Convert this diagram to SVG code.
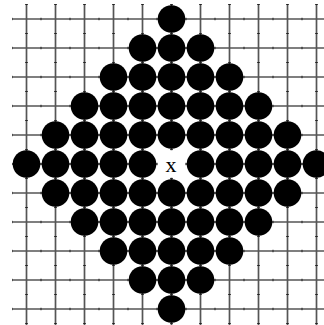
<svg xmlns="http://www.w3.org/2000/svg" width="324" height="325" viewBox="0 0 324 325">
<style>
.g{stroke:#555;stroke-width:1.7;fill:none}
.th{stroke:#222;stroke-width:2.6;fill:none;stroke-dasharray:1 28;stroke-dashoffset:0.5}
.tv{stroke:#222;stroke-width:2.6;fill:none;stroke-dasharray:1 28;stroke-dashoffset:0}
.s{fill:#000}
.x{font-family:"Liberation Serif","Times New Roman",serif;font-size:22px;text-anchor:middle;fill:#000}
</style>
<rect width="324" height="325" fill="#fff"/>
<g id="grid">
<path class="g" d="M12 19H324M12 48H324M12 77H324M12 106H324M12 135H324M12 164H324M12 193H324M12 222H324M12 251H324M12 280H324M12 309H324"/>
<path class="g" d="M26.5 4V325M55.5 4V325M84.5 4V325M113.5 4V325M142.5 4V325M171.5 4V325M200.5 4V325M229.5 4V325M258.5 4V325M287.5 4V325M316.5 4V325"/>
<path class="th" d="M12 19H324M12 48H324M12 77H324M12 106H324M12 135H324M12 164H324M12 193H324M12 222H324M12 251H324M12 280H324M12 309H324"/>
<path class="tv" d="M26.5 4V325M55.5 4V325M84.5 4V325M113.5 4V325M142.5 4V325M171.5 4V325M200.5 4V325M229.5 4V325M258.5 4V325M287.5 4V325M316.5 4V325"/>
</g>
<g id="connectors"></g>
<g id="s-0-5"><circle class="s" cx="171.5" cy="19" r="13.8"/></g>
<g id="s-1-4"><circle class="s" cx="142.5" cy="48" r="13.8"/></g>
<g id="s-1-5"><circle class="s" cx="171.5" cy="48" r="13.8"/></g>
<g id="s-1-6"><circle class="s" cx="200.5" cy="48" r="13.8"/></g>
<g id="s-2-3"><circle class="s" cx="113.5" cy="77" r="13.8"/></g>
<g id="s-2-4"><circle class="s" cx="142.5" cy="77" r="13.8"/></g>
<g id="s-2-5"><circle class="s" cx="171.5" cy="77" r="13.8"/></g>
<g id="s-2-6"><circle class="s" cx="200.5" cy="77" r="13.8"/></g>
<g id="s-2-7"><circle class="s" cx="229.5" cy="77" r="13.8"/></g>
<g id="s-3-2"><circle class="s" cx="84.5" cy="106" r="13.8"/></g>
<g id="s-3-3"><circle class="s" cx="113.5" cy="106" r="13.8"/></g>
<g id="s-3-4"><circle class="s" cx="142.5" cy="106" r="13.8"/></g>
<g id="s-3-5"><circle class="s" cx="171.5" cy="106" r="13.8"/></g>
<g id="s-3-6"><circle class="s" cx="200.5" cy="106" r="13.8"/></g>
<g id="s-3-7"><circle class="s" cx="229.5" cy="106" r="13.8"/></g>
<g id="s-3-8"><circle class="s" cx="258.5" cy="106" r="13.8"/></g>
<g id="s-4-1"><circle class="s" cx="55.5" cy="135" r="13.8"/></g>
<g id="s-4-2"><circle class="s" cx="84.5" cy="135" r="13.8"/></g>
<g id="s-4-3"><circle class="s" cx="113.5" cy="135" r="13.8"/></g>
<g id="s-4-4"><circle class="s" cx="142.5" cy="135" r="13.8"/></g>
<g id="s-4-5"><circle class="s" cx="171.5" cy="135" r="13.8"/></g>
<g id="s-4-6"><circle class="s" cx="200.5" cy="135" r="13.8"/></g>
<g id="s-4-7"><circle class="s" cx="229.5" cy="135" r="13.8"/></g>
<g id="s-4-8"><circle class="s" cx="258.5" cy="135" r="13.8"/></g>
<g id="s-4-9"><circle class="s" cx="287.5" cy="135" r="13.8"/></g>
<g id="s-5-0"><circle class="s" cx="26.5" cy="164" r="13.8"/></g>
<g id="s-5-1"><circle class="s" cx="55.5" cy="164" r="13.8"/></g>
<g id="s-5-2"><circle class="s" cx="84.5" cy="164" r="13.8"/></g>
<g id="s-5-3"><circle class="s" cx="113.5" cy="164" r="13.8"/></g>
<g id="s-5-4"><circle class="s" cx="142.5" cy="164" r="13.8"/></g>
<g id="center"><circle cx="171.5" cy="164" r="13.8" fill="#fff"/><text class="x" x="171" y="172">x</text></g>
<g id="s-5-6"><circle class="s" cx="200.5" cy="164" r="13.8"/></g>
<g id="s-5-7"><circle class="s" cx="229.5" cy="164" r="13.8"/></g>
<g id="s-5-8"><circle class="s" cx="258.5" cy="164" r="13.8"/></g>
<g id="s-5-9"><circle class="s" cx="287.5" cy="164" r="13.8"/></g>
<g id="s-5-10"><circle class="s" cx="316.5" cy="164" r="13.8"/></g>
<g id="s-6-1"><circle class="s" cx="55.5" cy="193" r="13.8"/></g>
<g id="s-6-2"><circle class="s" cx="84.5" cy="193" r="13.8"/></g>
<g id="s-6-3"><circle class="s" cx="113.5" cy="193" r="13.8"/></g>
<g id="s-6-4"><circle class="s" cx="142.5" cy="193" r="13.8"/></g>
<g id="s-6-5"><circle class="s" cx="171.5" cy="193" r="13.8"/></g>
<g id="s-6-6"><circle class="s" cx="200.5" cy="193" r="13.8"/></g>
<g id="s-6-7"><circle class="s" cx="229.5" cy="193" r="13.8"/></g>
<g id="s-6-8"><circle class="s" cx="258.5" cy="193" r="13.8"/></g>
<g id="s-6-9"><circle class="s" cx="287.5" cy="193" r="13.8"/></g>
<g id="s-7-2"><circle class="s" cx="84.5" cy="222" r="13.8"/></g>
<g id="s-7-3"><circle class="s" cx="113.5" cy="222" r="13.8"/></g>
<g id="s-7-4"><circle class="s" cx="142.5" cy="222" r="13.8"/></g>
<g id="s-7-5"><circle class="s" cx="171.5" cy="222" r="13.8"/></g>
<g id="s-7-6"><circle class="s" cx="200.5" cy="222" r="13.8"/></g>
<g id="s-7-7"><circle class="s" cx="229.5" cy="222" r="13.8"/></g>
<g id="s-7-8"><circle class="s" cx="258.5" cy="222" r="13.8"/></g>
<g id="s-8-3"><circle class="s" cx="113.5" cy="251" r="13.8"/></g>
<g id="s-8-4"><circle class="s" cx="142.5" cy="251" r="13.8"/></g>
<g id="s-8-5"><circle class="s" cx="171.5" cy="251" r="13.8"/></g>
<g id="s-8-6"><circle class="s" cx="200.5" cy="251" r="13.8"/></g>
<g id="s-8-7"><circle class="s" cx="229.5" cy="251" r="13.8"/></g>
<g id="s-9-4"><circle class="s" cx="142.5" cy="280" r="13.8"/></g>
<g id="s-9-5"><circle class="s" cx="171.5" cy="280" r="13.8"/></g>
<g id="s-9-6"><circle class="s" cx="200.5" cy="280" r="13.8"/></g>
<g id="s-10-5"><circle class="s" cx="171.5" cy="309" r="13.8"/></g>
</svg>
